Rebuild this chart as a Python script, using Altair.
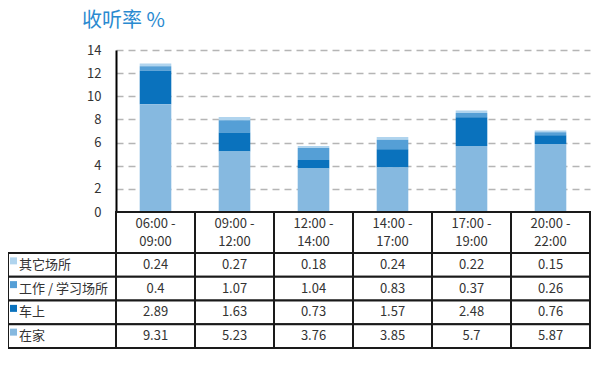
import altair as alt
import pandas as pd

# ---- data ----
periods = ["06:00  -\n09:00", "09:00  -\n12:00", "12:00  -\n14:00",
           "14:00  -\n17:00", "17:00  -\n19:00", "20:00  -\n22:00"]
categories = ["其它场所", "工作 / 学习场所", "车上", "在家"]   # table order, top to bottom
other_vals = [0.24, 0.27, 0.18, 0.24, 0.22, 0.15]
work_vals = [0.4, 1.07, 1.04, 0.83, 0.37, 0.26]
car_vals = [2.89, 1.63, 0.73, 1.57, 2.48, 0.76]
home_vals = [9.31, 5.23, 3.76, 3.85, 5.7, 5.87]
colors = ["#b0d4ee", "#559fd6", "#0a72bd", "#86b9e0"]
y_ticks = [0, 2, 4, 6, 8, 10, 12, 14]
title_text = "收听率 %"

series = {"其它场所": other_vals, "工作 / 学习场所": work_vals, "车上": car_vals, "在家": home_vals}
stack_rank = {"在家": 0, "车上": 1, "工作 / 学习场所": 2, "其它场所": 3}

rows = []
for cat, vals in series.items():
    for p, v in zip(periods, vals):
        rows.append({"period": p, "category": cat, "value": v,
                     "stack": stack_rank[cat], "text": str(v)})
df = pd.DataFrame(rows)
header_df = pd.DataFrame({"period": periods})
label_df = pd.DataFrame({"category": categories})

# ---- layout ----
W, H = 474, 298
BAR_H = 162
HEAD_B = 203
FONT = "Noto Sans CJK SC"
LINE = "#1a1a1a"
TXT = "#333333"

xenc = alt.X("period:N", sort=periods,
             scale=alt.Scale(domain=periods, paddingInner=0, paddingOuter=0),
             axis=None)
color_enc = alt.Color("category:N", scale=alt.Scale(domain=categories, range=colors), legend=None)
row_scale = alt.Scale(domain=categories, range=[HEAD_B, H], paddingInner=0, paddingOuter=0)
yrow = alt.Y("category:N", sort=categories, scale=row_scale, axis=None)

bars = alt.Chart(df).mark_bar(width=alt.RelativeBandSize(0.4)).encode(
    x=xenc,
    y=alt.Y("value:Q", stack="zero",
            scale=alt.Scale(domain=[0, 14], range=[BAR_H, 0], nice=False),
            axis=alt.Axis(values=y_ticks, grid=True, gridDash=[7, 5], gridColor="#b5b5b5",
                          gridWidth=1.5, domainColor="black", domainWidth=2, ticks=False,
                          labelPadding=15, labelFontSize=13, labelColor=TXT,
                          labelFont=FONT, title=None)),
    color=color_enc,
    order=alt.Order("stack:Q"),
)

header_cells = alt.Chart(header_df).mark_rect(fill="white", stroke=LINE, strokeWidth=2).encode(
    x=xenc, y=alt.value(BAR_H), y2=alt.value(HEAD_B))
header_text = alt.Chart(header_df).mark_text(
    lineBreak="\n", lineHeight=18, fontSize=13, font=FONT, color=TXT, baseline="middle"
).encode(x=xenc, y=alt.value(BAR_H + 12), text="period:N")

body_cells = alt.Chart(df).mark_rect(fill="white", stroke=LINE, strokeWidth=2).encode(
    x=xenc, y=yrow)
body_text = alt.Chart(df).mark_text(fontSize=13, font=FONT, color=TXT).encode(
    x=xenc, y=yrow, text="text:N")

label_cells = alt.Chart(label_df).mark_rect(fill="white", stroke=LINE, strokeWidth=2).encode(
    x=alt.value(-108), x2=alt.value(0), y=yrow)
label_squares = alt.Chart(label_df).mark_square(size=49, opacity=1, yOffset=-4).encode(
    x=alt.value(-102.5), y=yrow, color=color_enc)
label_text = alt.Chart(label_df).mark_text(align="left", fontSize=13, font=FONT, color=TXT).encode(
    x=alt.value(-97), y=yrow, text="category:N")

chart = alt.layer(
    bars, header_cells, header_text, body_cells, body_text,
    label_cells, label_squares, label_text
).resolve_scale(y="independent").properties(
    width=W, height=H,
    title=alt.TitleParams(title_text, anchor="start", frame="group", dx=-34,
                          fontSize=20, font=FONT, color="#2a8ad0", fontWeight="normal",
                          baseline="middle", offset=3),
    autosize=alt.AutoSizeParams(type="none"),
    padding={"left": 108, "top": 42, "right": 2, "bottom": 2},
).configure_view(strokeWidth=0)

chart.save("out.html", embed_options={"renderer": "svg", "actions": False})
